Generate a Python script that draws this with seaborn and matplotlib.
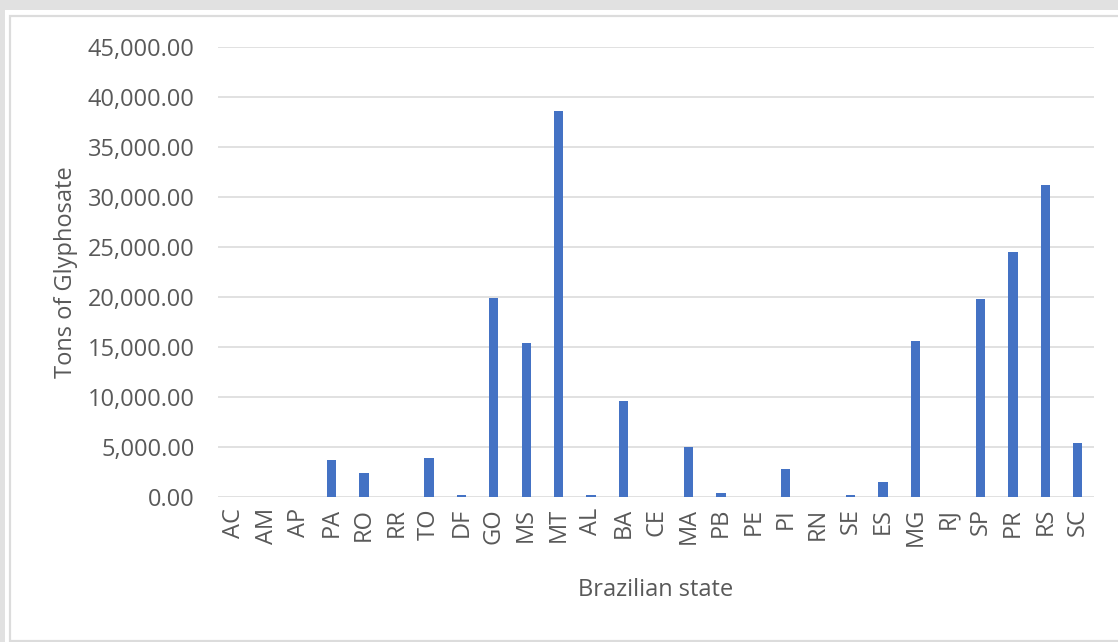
import matplotlib
matplotlib.use("Agg")
import matplotlib.pyplot as plt
from matplotlib.patches import Rectangle
from matplotlib.ticker import FuncFormatter, MultipleLocator
import seaborn as sns
import pandas as pd

states = ["AC", "AM", "AP", "PA", "RO", "RR", "TO", "DF", "GO", "MS", "MT", "AL", "BA",
          "CE", "MA", "PB", "PE", "PI", "RN", "SE", "ES", "MG", "RJ", "SP", "PR", "RS", "SC"]
tons = [0, 0, 0, 3700, 2400, 0, 3900, 250, 19950, 15400, 38600, 250, 9600,
        0, 5000, 450, 0, 2850, 0, 250, 1550, 15600, 0, 19800, 24500, 31200, 5450]

df = pd.DataFrame({"state": states, "tons": tons})

sns.set_theme(style="white")
plt.rcParams["font.family"] = ["Open Sans", "DejaVu Sans"]

TEXT = "#595959"
GRID = "#d9d9d9"
BAR = "#4472C4"
FS = 17

fig = plt.figure(figsize=(11.18, 6.42), dpi=100)
W, H = 1118, 642

# page background and card frame
fig.patches.append(Rectangle((0, 0), 1, 1, transform=fig.transFigure,
                             facecolor="#e1e1e1", edgecolor="none", zorder=-3))
fig.patches.append(Rectangle((5 / W, 0), 1, (642 - 10) / H, transform=fig.transFigure,
                             facecolor="white", edgecolor="none", zorder=-2))
fig.patches.append(Rectangle((10 / W, 1.5 / H), 1.2, (642 - 17.5) / H, transform=fig.transFigure,
                             facecolor="white", edgecolor="#dcdcdc", linewidth=1.6, zorder=-1))

ax = fig.add_axes([218 / W, (642 - 497) / H, (1094 - 218) / W, (497 - 47) / H])
ax.set_facecolor("none")

sns.barplot(data=df, x="state", y="tons", color=BAR, width=0.29,
            edgecolor="none", saturation=1, ax=ax, zorder=3)

ax.set_ylim(0, 45000)
ax.set_xlim(-0.5, len(states) - 0.5)
ax.yaxis.set_major_locator(MultipleLocator(5000))
ax.yaxis.set_major_formatter(FuncFormatter(lambda v, p: f"{v:,.2f}"))
ax.grid(axis="y", color=GRID, linewidth=1.1, zorder=0)
ax.grid(axis="x", visible=False)
for s in ax.spines.values():
    s.set_visible(False)

ax.tick_params(axis="y", length=0, pad=17, labelsize=FS, labelcolor=TEXT)
ax.tick_params(axis="x", length=0, pad=8, labelsize=FS, labelcolor=TEXT, rotation=90)

ax.set_xlabel("Brazilian state", fontsize=FS, color=TEXT, labelpad=23)
ax.set_ylabel("Tons of Glyphosate", fontsize=FS, color=TEXT, labelpad=7)

fig.savefig("out.png", dpi=100)
